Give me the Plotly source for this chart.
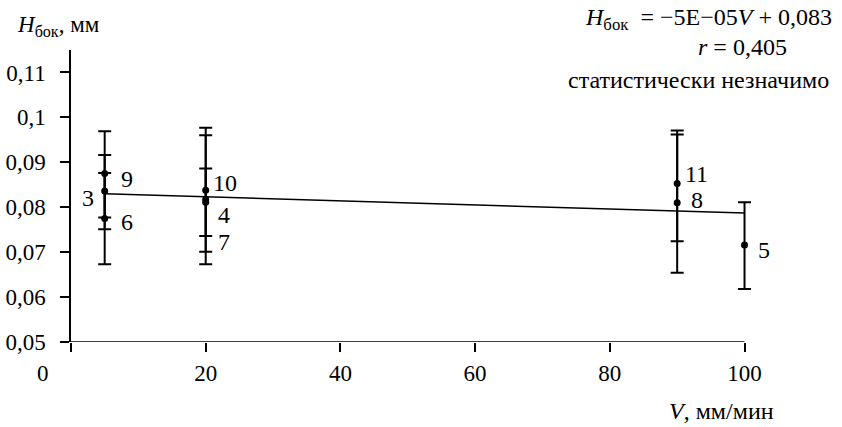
import numpy as np
import plotly.graph_objects as go

# ---- data ----
point_labels = ["3", "4", "5", "6", "7", "8", "9", "10", "11"]
V = [5, 20, 100, 5, 20, 90, 5, 20, 90]
H = [0.0836, 0.0817, 0.0716, 0.0775, 0.0811, 0.0810, 0.0875, 0.0838, 0.0853]
err_plus = [0.0080, 0.0143, 0.0095, 0.0101, 0.0075, 0.0152, 0.0094, 0.0139, 0.0118]
err_minus = [0.0085, 0.0144, 0.0098, 0.0102, 0.0075, 0.0156, 0.0098, 0.0137, 0.0129]

y_tickvals = [0.05, 0.06, 0.07, 0.08, 0.09, 0.10, 0.11]
y_ticktext = ["0,05", "0,06", "0,07", "0,08", "0,09", "0,1", "0,11"]
x_tickvals = [0, 20, 40, 60, 80, 100]
x_ticktext = ["", "20", "40", "60", "80", "100"]
x_axis_end = 100

# label offsets (px) relative to each point
label_dx = [-17, 18, 19, 22, 18, 20, 22, 19, 19]
label_dy = [-7, -15, -5, -4, -40, 3, -5, 7, 9]

# linear trend (least squares)
slope, intercept = np.polyfit(V, H, 1)
trend_x = [min(V), max(V)]
trend_y = [slope * v + intercept for v in trend_x]

FONT = "Times New Roman, Liberation Serif, Tinos, DejaVu Serif, serif"
ANN = 24
TICK = 23

fig = go.Figure()
fig.add_trace(go.Scatter(
    x=trend_x, y=trend_y, mode="lines", cliponaxis=False,
    line=dict(color="black", width=1.5), hoverinfo="skip", showlegend=False))
fig.add_trace(go.Scatter(
    x=V, y=H, mode="markers", cliponaxis=False,
    marker=dict(color="black", size=7),
    error_y=dict(type="data", symmetric=False, array=err_plus, arrayminus=err_minus,
                 color="black", thickness=2, width=6.5),
    showlegend=False))

# x axis line (ends at V = 100, as in the reference)
fig.add_shape(type="line", xref="x", yref="y", x0=0, x1=x_axis_end, y0=0.05, y1=0.05,
              line=dict(color="black", width=1.5), layer="above")

annotations = []
for v, h, lab, dx, dy in zip(V, H, point_labels, label_dx, label_dy):
    annotations.append(dict(x=v, y=h, xref="x", yref="y", text=lab, showarrow=False,
                            xshift=dx, yshift=dy, font=dict(family=FONT, size=ANN, color="black")))

# "0" label for the x axis (offset to the left as in the reference)
annotations.append(dict(x=0, y=0, xref="x", yref="paper", text="0", showarrow=False,
                        xshift=-28, yshift=-31, yanchor="middle",
                        font=dict(family=FONT, size=TICK, color="black")))
# axis titles
annotations.append(dict(x=0, y=1, xref="paper", yref="paper", xanchor="left", yanchor="middle",
                        xshift=-56, yshift=24, showarrow=False,
                        text="<i>H</i><sub>бок</sub>, мм",
                        font=dict(family=FONT, size=ANN - 1, color="black")))
annotations.append(dict(x=x_axis_end, y=0, xref="x", yref="paper", xanchor="right", yanchor="middle",
                        xshift=31, yshift=-69, showarrow=False,
                        text="<i>V</i>, мм/мин",
                        font=dict(family=FONT, size=ANN, color="black")))
# equation block
annotations.append(dict(x=x_axis_end, y=1, xref="x", yref="paper", xanchor="right", yanchor="middle",
                        xshift=89, yshift=31, showarrow=False,
                        text="<i>H</i><sub>бок</sub>\u00a0\u00a0= −5E−05<i>V</i> + 0,083",
                        font=dict(family=FONT, size=ANN, color="black")))
annotations.append(dict(x=x_axis_end, y=1, xref="x", yref="paper", xanchor="center", yanchor="middle",
                        xshift=-2, yshift=3, showarrow=False,
                        text="<i>r</i> = 0,405",
                        font=dict(family=FONT, size=ANN, color="black")))
annotations.append(dict(x=x_axis_end, y=1, xref="x", yref="paper", xanchor="right", yanchor="middle",
                        xshift=86, yshift=-30, showarrow=False,
                        text="статистически незначимо",
                        font=dict(family=FONT, size=ANN, color="black")))

fig.update_layout(
    width=842, height=427,
    margin=dict(l=71, r=84.2, t=49.5, b=84.5, autoexpand=False),
    paper_bgcolor="white", plot_bgcolor="white",
    font=dict(family=FONT, size=TICK, color="black"),
    annotations=annotations,
    xaxis=dict(range=[0, 102], tickvals=x_tickvals, ticktext=x_ticktext,
               showline=False,
               ticks="outside", ticklen=9, tickwidth=1.5, tickcolor="black",
               showgrid=False, zeroline=False, ticklabelstandoff=1, automargin=False,
               tickfont=dict(family=FONT, size=TICK, color="black")),
    yaxis=dict(range=[0.05, 0.115], tickvals=y_tickvals, ticktext=y_ticktext,
               showline=True, linecolor="black", linewidth=1.5,
               ticks="outside", ticklen=9, tickwidth=1.5, tickcolor="black",
               showgrid=False, zeroline=False, ticklabelstandoff=10, automargin=False,
               tickfont=dict(family=FONT, size=TICK, color="black")),
)

fig.write_html("out.html", post_script="document.body.style.margin='0';",
               config={"displayModeBar": False})
